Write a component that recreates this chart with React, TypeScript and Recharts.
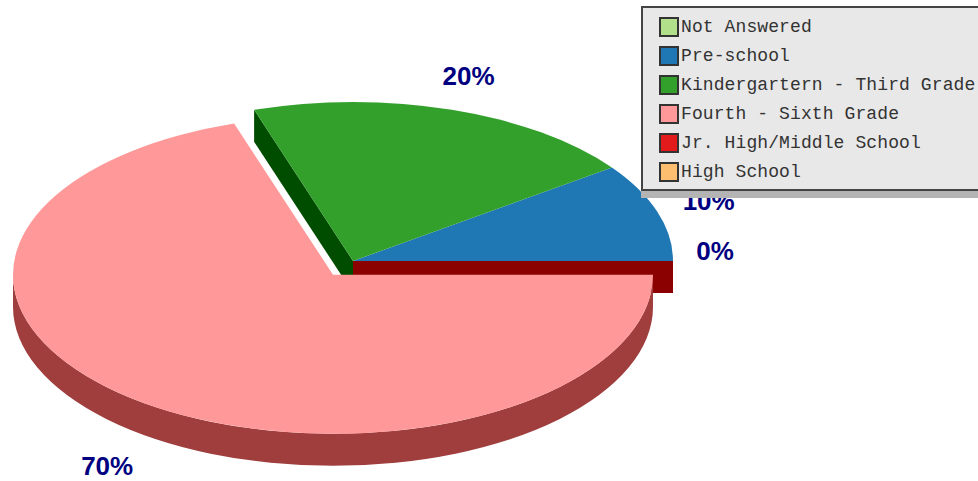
import { PieChart, Pie, Legend } from "recharts";

const categories = [
  "Not Answered",
  "Pre-school",
  "Kindergartern - Third Grade",
  "Fourth - Sixth Grade",
  "Jr. High/Middle School",
  "High School",
];
const percents = [0, 10, 20, 70, 0, 0];
const colors = ["#b2df8a", "#1f78b4", "#33a02c", "#ff9999", "#e31a1c", "#fdbf6f"];

const rows = categories.map((name, i) => ({
  name,
  value: percents[i],
  fill: colors[i],
}));

// fake 3d settings
const RX = 320;
const RY = 159;
const DEPTH = 32;
const EXPLODE = 34;
const EXPLODED_SLICE = "Fourth - Sixth Grade";
const WALL_COLOR = "#a03d3d";
const SIDE_WALLS: Record<string, string> = {
  "Kindergartern - Third Grade": "#004d00",
  "Jr. High/Middle School": "#8b0000",
};

const rad = (deg: number) => (deg * Math.PI) / 180;
const onEllipse = (cx: number, cy: number, deg: number) => [
  cx + RX * Math.cos(rad(deg)),
  cy - RY * Math.sin(rad(deg)),
];

function explodedCenter(props: any) {
  if (props.name !== EXPLODED_SLICE) return [props.cx, props.cy];
  const mid = (props.startAngle + props.endAngle) / 2;
  return [
    props.cx + EXPLODE * Math.cos(rad(mid)),
    props.cy - (EXPLODE / 2) * Math.sin(rad(mid)),
  ];
}

function TopSlice(props: any) {
  const { startAngle, endAngle, fill, name } = props;
  if (endAngle - startAngle <= 0) return null;
  const [cx, cy] = explodedCenter(props);
  const [x0, y0] = onEllipse(cx, cy, startAngle);
  const [x1, y1] = onEllipse(cx, cy, endAngle);
  const large = endAngle - startAngle > 180 ? 1 : 0;
  const top = `M${cx},${cy}L${x0},${y0}A${RX},${RY} 0 ${large} 0 ${x1},${y1}Z`;
  if (name !== EXPLODED_SLICE) return <path d={top} fill={fill} />;
  const [lx, ly] = onEllipse(cx, cy, 180);
  const [rx, ry] = onEllipse(cx, cy, 360);
  const wall = `M${lx},${ly}A${RX},${RY} 0 0 0 ${rx},${ry}L${rx},${ry + DEPTH}A${RX},${RY} 0 0 1 ${lx},${ly + DEPTH}Z`;
  return (
    <g>
      <path d={wall} fill={WALL_COLOR} />
      <path d={top} fill={fill} />
    </g>
  );
}

function SideWall(props: any) {
  const { cx, cy, endAngle, name } = props;
  const color = SIDE_WALLS[name];
  if (!color) return null;
  const [x, y] = onEllipse(cx, cy, endAngle);
  const pts = `${cx},${cy} ${x},${y} ${x},${y + DEPTH} ${cx},${cy + DEPTH}`;
  return <polygon points={pts} fill={color} />;
}

function PercentLabel(props: any) {
  const { cx, cy, midAngle, value, name } = props;
  if (value === 0 && name !== "Not Answered") return null;
  const [ox, oy] = explodedCenter({ ...props, name });
  let x = ox + 374 * Math.cos(rad(midAngle));
  let y = oy - 194 * Math.sin(rad(midAngle));
  if (value === 0) {
    x = cx + 362;
    y = cy - 10;
  }
  if (name === EXPLODED_SLICE) {
    x -= 6;
    y += 34;
  }
  return (
    <text
      x={x}
      y={y}
      textAnchor="middle"
      dominantBaseline="central"
      fontFamily="Liberation Sans"
      fontWeight="bold"
      fontSize={26}
      fill="#000080"
    >
      {value}%
    </text>
  );
}

function LegendBox() {
  return (
    <div
      style={{
        boxSizing: "border-box",
        width: 345,
        height: 185,
        background: "#e8e8e8",
        border: "2px solid #444",
        boxShadow: "0 7px 0 #b4b4b4",
        paddingTop: 4,
      }}
    >
      {rows.map((row) => (
        <div key={row.name} style={{ display: "flex", alignItems: "center", height: 29, paddingLeft: 16 }}>
          <span
            style={{
              boxSizing: "border-box",
              width: 20,
              height: 20,
              marginRight: 2,
              background: row.fill,
              border: "2px solid #333",
            }}
          />
          <span
            style={{
              fontFamily: "Liberation Mono",
              fontSize: 18,
              letterSpacing: 0.1,
              color: "#333",
              whiteSpace: "pre",
            }}
          >
            {row.name}
          </span>
        </div>
      ))}
    </div>
  );
}

export default function App() {
  return (
    <div style={{ position: "absolute", left: 0, top: 0, width: 978, height: 481, overflow: "hidden" }}>
      <PieChart width={978} height={481} margin={{ top: 0, right: 0, bottom: 0, left: 0 }}>
        <Pie
          data={rows}
          dataKey="value"
          nameKey="name"
          cx={353}
          cy={261}
          innerRadius={0}
          outerRadius={RX}
          startAngle={0}
          endAngle={360}
          stroke="none"
          legendType="none"
          shape={SideWall}
          isAnimationActive={false}
        />
        <Pie
          data={rows}
          dataKey="value"
          nameKey="name"
          cx={353}
          cy={261}
          innerRadius={0}
          outerRadius={RX}
          startAngle={0}
          endAngle={360}
          stroke="none"
          shape={TopSlice}
          label={PercentLabel}
          labelLine={false}
          isAnimationActive={false}
        />
        <Legend
          content={LegendBox}
          layout="vertical"
          itemSorter={null}
          wrapperStyle={{ position: "absolute", left: 641, top: 6, width: 345, height: 185 }}
        />
      </PieChart>
    </div>
  );
}
